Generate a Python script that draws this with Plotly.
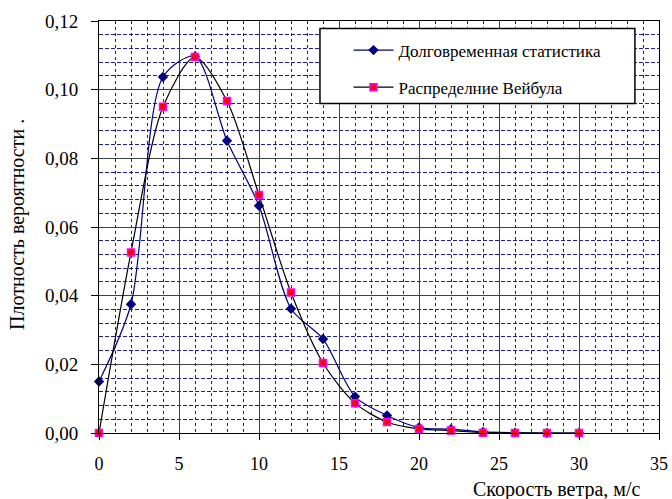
import plotly.graph_objects as go

wind_speed = [0, 2, 4, 6, 8, 10, 12, 14, 16, 18, 20, 22, 24, 26, 28, 30]
long_term_stats = [0.0150, 0.0375, 0.1037, 0.1097, 0.0851, 0.0662, 0.0362, 0.0274,
                   0.0106, 0.0051, 0.0016, 0.0011, 0.0003, 0.0001, 0.0, 0.0]
weibull = [0.0, 0.0526, 0.0950, 0.1095, 0.0967, 0.0693, 0.0409, 0.0204,
           0.0087, 0.0032, 0.0012, 0.0007, 0.0001, 0.0, 0.0, 0.0]

serif = "Liberation Serif"
minor_color = "#1c1ca8"
major_color = "#404040"

fig = go.Figure()
fig.add_trace(go.Scatter(
    x=wind_speed, y=long_term_stats, name="Долговременная статистика",
    legendgroup="a",
    mode="lines+markers", cliponaxis=False,
    line=dict(color="#000080", width=1.2, shape="spline", smoothing=0.8),
    marker=dict(symbol="diamond", size=8, color="#000080"),
))
fig.add_trace(go.Scatter(
    x=wind_speed, y=weibull, name="Распределние Вейбула",
    legendgroup="b",
    mode="lines+markers", cliponaxis=False,
    line=dict(color="#000000", width=1.2, shape="spline", smoothing=0.8),
    marker=dict(symbol="square", size=7, color="#FF0000",
                line=dict(color="#FF00FF", width=1.5)),
))

fig.update_layout(
    width=672, height=499,
    margin=dict(l=99, r=13, t=21, b=66),
    paper_bgcolor="white", plot_bgcolor="white",
    separators=", ",
    font=dict(family=serif, size=18, color="black"),
    showlegend=True,
    legend=dict(
        x=0.4455, y=0.972, xanchor="left", yanchor="top",
        bgcolor="rgba(0,0,0,0)", borderwidth=0,
        font=dict(family=serif, size=17),
        tracegroupgap=12, itemwidth=40,
    ),
    shapes=[
        dict(type="rect", xref="paper", yref="paper",
             x0=0.3946, x1=0.957, y0=0.80, y1=0.9816,
             line=dict(color="black", width=1.5), fillcolor="white", layer="above"),
    ],
    xaxis=dict(
        range=[0, 35], dtick=5, tick0=0, automargin=False,
        showline=True, linecolor="black", linewidth=1, mirror=True,
        ticks="outside", ticklen=6, tickcolor="black", ticklabelstandoff=8,
        showgrid=True, gridcolor=major_color, gridwidth=1,
        zeroline=False,
        minor=dict(dtick=1, showgrid=True, gridcolor=minor_color, griddash="3px,3px", gridwidth=1),
        tickfont=dict(family=serif, size=18),
    ),
    yaxis=dict(
        range=[0, 0.12], dtick=0.02, tick0=0, tickformat=".2f", automargin=False,
        showline=True, linecolor="black", linewidth=1, mirror=True,
        ticks="outside", ticklen=7, tickcolor="black", ticklabelstandoff=9,
        showgrid=True, gridcolor=major_color, gridwidth=1,
        zeroline=False,
        minor=dict(dtick=0.004, showgrid=True, gridcolor=minor_color, griddash="4px,2px", gridwidth=1),
        tickfont=dict(family=serif, size=19),
    ),
    annotations=[
        dict(text="Скорость ветра, м/с", xref="paper", yref="paper",
             x=0.971, y=-0.138, xanchor="right", yanchor="middle", showarrow=False,
             font=dict(family=serif, size=20)),
        dict(text="Плотность вероятности .", xref="paper", yref="paper",
             x=-0.1446, y=0.505, xanchor="center", yanchor="middle", showarrow=False,
             textangle=-90, font=dict(family=serif, size=20)),
    ],
)

fig.write_html("out.html", config={"displayModeBar": False},
               post_script="document.body.style.margin='0';")
